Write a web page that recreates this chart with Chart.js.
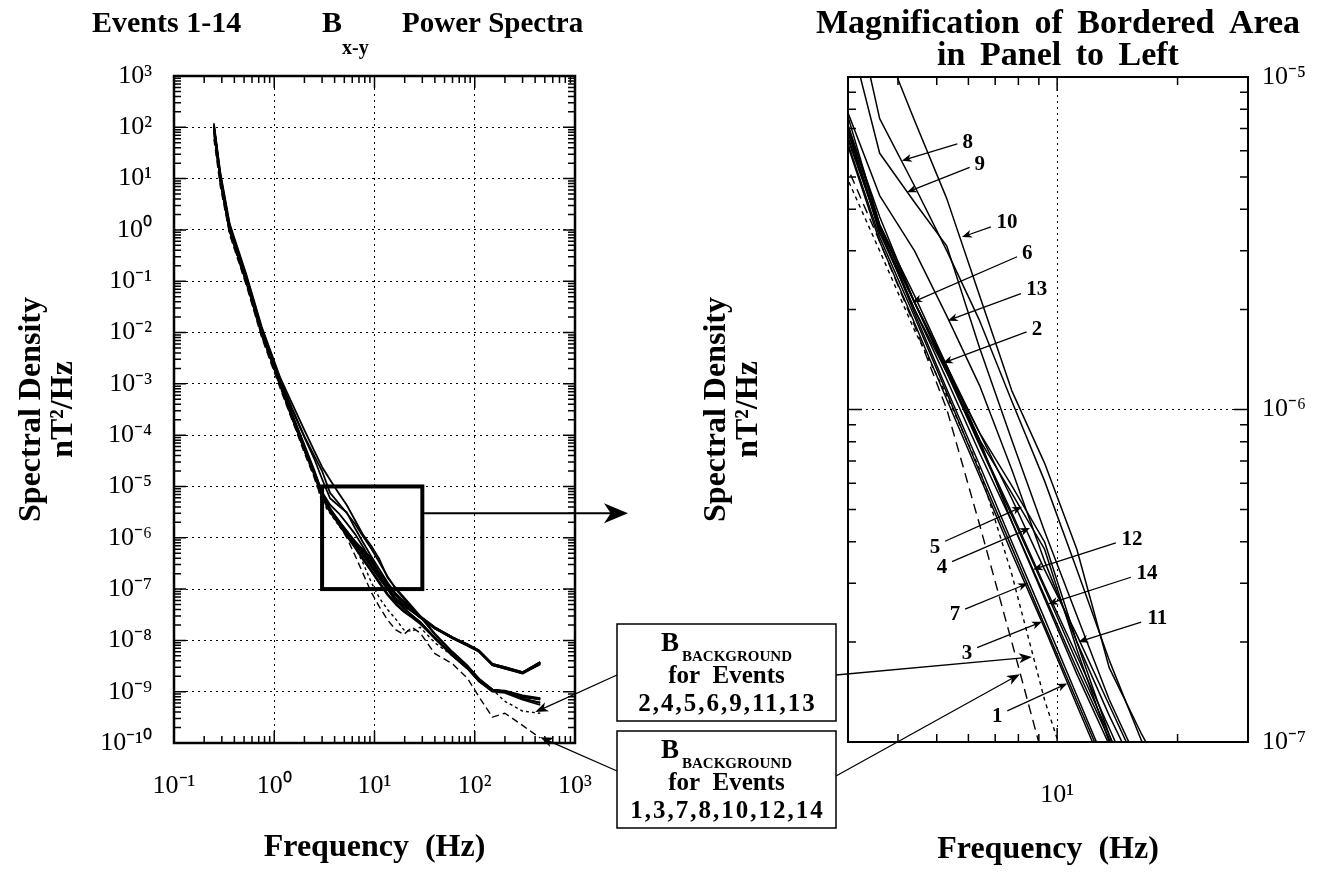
<!DOCTYPE html>
<html>
<head>
<meta charset="utf-8">
<script src="https://cdn.jsdelivr.net/npm/chart.js@4.4.0/dist/chart.umd.min.js"></script>
<style>
  body { margin: 0; background: #fff; }
  #wrap { position: relative; width: 1327px; height: 877px; }
  canvas { position: absolute; left: 0; top: 0; }
</style>
</head>
<body>
<div id="wrap">
  <canvas id="spectraChart" width="1327" height="877"></canvas>
  <canvas id="zoomChart" width="1327" height="877"></canvas>
</div>
<script>
// frequency bins (Hz) shared by every spectrum
const freq = [0.25, 0.29, 0.36, 0.53, 0.75, 1.15, 1.5, 2.0, 2.5, 3.0, 3.6, 4.4, 5.3, 6.4, 7.7, 9.3, 11.2, 13.5, 16.3, 19.6, 23.6, 28.5, 40, 60, 85, 110, 150, 200, 300, 450];

// Bx-y spectral density (nT^2/Hz), one array per event
const event1  = [95, 9.5, 0.95, 0.095, 0.0095, 9.5e-4, 2.2e-4, 5.2e-5, 1.7e-5, 6.2e-6, 3.2e-6, 1.82e-6, 1.07e-6, 6.3e-7, 3.7e-7, 2.2e-7, 1.29e-7, 7.6e-8, 5.0e-8, 3.6e-8, 2.8e-8, 2.1e-8, 1.1e-8, 5.0e-9, 2.8e-9, 1.6e-9, 1.05e-9, 1.0e-9, 7.5e-10, 6.0e-10];
const event2  = [100, 10, 1.0, 0.1, 0.01, 1.0e-3, 2.4e-4, 5.8e-5, 1.9e-5, 7.2e-6, 3.6e-6, 2.1e-6, 1.32e-6, 7.9e-7, 4.9e-7, 2.95e-7, 1.82e-7, 1.1e-7, 6.6e-8, 5.0e-8, 3.8e-8, 2.8e-8, 1.7e-8, 1.1e-8, 8.0e-9, 6.2e-9, 3.4e-9, 2.9e-9, 2.3e-9, 3.6e-9];
const event3  = [92, 9.2, 0.92, 0.092, 0.0092, 9.2e-4, 2.2e-4, 5.3e-5, 1.75e-5, 6.3e-6, 3.3e-6, 1.9e-6, 1.12e-6, 6.5e-7, 3.85e-7, 2.25e-7, 1.33e-7, 7.9e-8, 5.2e-8, 3.7e-8, 2.9e-8, 2.2e-8, 1.1e-8, 5.2e-9, 2.9e-9, 1.65e-9, 1.08e-9, 1.0e-9, 8.0e-10, 7.0e-10];
const event4  = [98, 9.8, 0.98, 0.098, 0.0098, 9.8e-4, 2.3e-4, 5.6e-5, 1.85e-5, 6.9e-6, 3.4e-6, 2.0e-6, 1.29e-6, 8.1e-7, 5.6e-7, 3.8e-7, 1.9e-7, 1.0e-7, 5.6e-8, 4.6e-8, 3.7e-8, 2.8e-8, 1.7e-8, 1.1e-8, 7.8e-9, 6.0e-9, 3.3e-9, 2.8e-9, 2.3e-9, 3.4e-9];
const event5  = [102, 10.2, 1.02, 0.1, 0.0102, 1.0e-3, 2.35e-4, 5.7e-5, 1.9e-5, 7.1e-6, 3.4e-6, 2.1e-6, 1.32e-6, 8.5e-7, 5.9e-7, 4.0e-7, 2.0e-7, 1.05e-7, 5.9e-8, 4.7e-8, 3.8e-8, 2.9e-8, 1.75e-8, 1.15e-8, 8.2e-9, 6.3e-9, 3.5e-9, 3.0e-9, 2.4e-9, 3.8e-9];
const event6  = [104, 10.5, 1.05, 0.105, 0.0105, 1.05e-3, 2.45e-4, 5.9e-5, 1.95e-5, 7.1e-6, 3.8e-6, 2.1e-6, 1.35e-6, 8.1e-7, 4.6e-7, 2.7e-7, 1.6e-7, 9.8e-8, 6.5e-8, 4.8e-8, 3.7e-8, 2.8e-8, 1.7e-8, 1.1e-8, 8.0e-9, 6.1e-9, 3.3e-9, 2.8e-9, 2.25e-9, 3.5e-9];
const event7  = [94, 9.4, 0.94, 0.094, 0.0094, 9.4e-4, 2.25e-4, 5.4e-5, 1.8e-5, 6.5e-6, 3.5e-6, 1.95e-6, 1.15e-6, 6.8e-7, 4.0e-7, 2.35e-7, 1.38e-7, 8.1e-8, 5.3e-8, 3.8e-8, 2.9e-8, 2.3e-8, 1.15e-8, 5.3e-9, 3.0e-9, 1.7e-9, 1.1e-9, 1.05e-9, 8.5e-10, 7.5e-10];
const event8  = [110, 12, 1.2, 0.12, 0.012, 1.2e-3, 3.4e-4, 9.5e-5, 4.0e-5, 2.0e-5, 7.5e-6, 4.7e-6, 3.0e-6, 1.85e-6, 1.06e-6, 6.1e-7, 3.3e-7, 1.76e-7, 1.0e-7, 6.5e-8, 4.3e-8, 2.9e-8, 1.3e-8, 5.8e-9, 3.1e-9, 1.8e-9, 1.1e-9, 1.0e-9, 7.8e-10, 7.2e-10];
const event9  = [105, 11, 1.1, 0.11, 0.011, 1.1e-3, 3.2e-4, 9.0e-5, 3.5e-5, 1.4e-5, 5.9e-6, 4.2e-6, 3.1e-6, 1.53e-6, 8.1e-7, 4.3e-7, 2.4e-7, 1.34e-7, 8.2e-8, 5.8e-8, 4.2e-8, 3.0e-8, 1.8e-8, 1.15e-8, 8.4e-9, 6.4e-9, 3.5e-9, 3.0e-9, 2.4e-9, 3.8e-9];
const event10 = [120, 13, 1.3, 0.13, 0.013, 1.3e-3, 4.2e-4, 1.25e-4, 5.0e-5, 2.4e-5, 1.35e-5, 7.4e-6, 4.3e-6, 2.2e-6, 1.14e-6, 6.9e-7, 3.8e-7, 1.67e-7, 1.05e-7, 7.0e-8, 4.6e-8, 3.0e-8, 1.35e-8, 6.0e-9, 3.2e-9, 1.8e-9, 1.1e-9, 1.0e-9, 8.0e-10, 7.4e-10];
const event11 = [100, 10, 1.0, 0.1, 0.01, 1.0e-3, 2.5e-4, 6.0e-5, 2.0e-5, 7.6e-6, 3.6e-6, 2.2e-6, 1.35e-6, 8.5e-7, 5.4e-7, 3.3e-7, 2.1e-7, 1.29e-7, 7.9e-8, 5.6e-8, 4.0e-8, 2.9e-8, 1.8e-8, 1.15e-8, 8.3e-9, 6.4e-9, 3.4e-9, 2.9e-9, 2.35e-9, 3.7e-9];
const event12 = [96, 9.6, 0.96, 0.096, 0.0096, 9.6e-4, 2.3e-4, 5.5e-5, 1.85e-5, 6.6e-6, 3.5e-6, 2.0e-6, 1.23e-6, 7.4e-7, 4.6e-7, 2.75e-7, 1.66e-7, 1.02e-7, 6.2e-8, 4.2e-8, 3.1e-8, 2.3e-8, 1.1e-8, 5.0e-9, 2.8e-9, 1.6e-9, 1.0e-9, 9.5e-10, 7.0e-10, 5.5e-10];
const event13 = [108, 11, 1.1, 0.11, 0.011, 1.1e-3, 2.7e-4, 6.5e-5, 2.1e-5, 7.8e-6, 4.4e-6, 3.0e-6, 1.91e-6, 1.18e-6, 6.6e-7, 3.5e-7, 2.0e-7, 1.2e-7, 7.5e-8, 5.4e-8, 4.0e-8, 2.9e-8, 1.75e-8, 1.1e-8, 8.0e-9, 6.2e-9, 3.3e-9, 2.9e-9, 2.3e-9, 3.6e-9];
const event14 = [97, 9.7, 0.97, 0.097, 0.0097, 9.7e-4, 2.3e-4, 5.6e-5, 1.9e-5, 6.8e-6, 3.55e-6, 2.1e-6, 1.29e-6, 7.8e-7, 4.8e-7, 2.9e-7, 1.74e-7, 1.05e-7, 6.3e-8, 4.3e-8, 3.1e-8, 2.3e-8, 1.1e-8, 5.1e-9, 2.8e-9, 1.6e-9, 1.05e-9, 1.0e-9, 7.2e-10, 6.2e-10];

// background spectra
const bkgA = [60, 7.0, 0.8, 0.08, 0.008, 8.0e-4, 2.0e-4, 4.5e-5, 1.5e-5, 5.3e-6, 3.2e-6, 1.79e-6, 1.0e-6, 4.5e-7, 2.0e-7, 8.6e-8, 4.5e-8, 2.5e-8, 1.6e-8, 1.3e-8, 1.8e-8, 1.4e-8, 5.5e-9, 3.5e-9, 1.8e-9, 8.0e-10, 3.2e-10, 3.8e-10, 2.2e-10, 1.25e-10]; // events 1,3,7,8,10,12,14
const bkgB = [70, 8.0, 0.85, 0.085, 0.0085, 8.5e-4, 2.1e-4, 4.8e-5, 1.6e-5, 4.9e-6, 3.0e-6, 1.73e-6, 1.1e-6, 6.6e-7, 3.2e-7, 1.34e-7, 6.7e-8, 4.0e-8, 2.6e-8, 1.6e-8, 1.5e-8, 1.8e-8, 9.0e-9, 5.0e-9, 3.0e-9, 1.8e-9, 1.1e-9, 6.5e-10, 4.2e-10, 3.8e-10]; // events 2,4,5,6,9,11,13

// tick values (decades)
const leftXTicks = [0.1, 1, 10, 100, 1000];
const leftYTicks = [1e-10, 1e-9, 1e-8, 1e-7, 1e-6, 1e-5, 1e-4, 1e-3, 1e-2, 1e-1, 1, 10, 100, 1000];
const rightXTicks = [10];
const rightYTicks = [1e-7, 1e-6, 1e-5];

const events = [event1, event2, event3, event4, event5, event6, event7, event8, event9, event10, event11, event12, event13, event14];

// bordered area in left panel (Hz, nT^2/Hz)
const zoomBox = {fMin: 3, fMax: 30, vMin: 1e-7, vMax: 1e-5, arrowAt: 3e-6};

// event number labels in right panel: tip on the curve (data coords), label offset in px
const eventLabels = [
  {n: '8',  f: 4.09, v: 5.6e-6,  dx: 66,  dy: -20},
  {n: '9',  f: 4.21, v: 4.5e-6,  dx: 73,  dy: -29},
  {n: '10', f: 5.78, v: 3.3e-6,  dx: 45,  dy: -16},
  {n: '6',  f: 4.34, v: 2.1e-6,  dx: 115, dy: -50},
  {n: '13', f: 5.33, v: 1.85e-6, dx: 89,  dy: -33},
  {n: '2',  f: 5.18, v: 1.38e-6, dx: 94,  dy: -35},
  {n: '5',  f: 8.17, v: 5.1e-7,  dx: -87, dy: 39},
  {n: '4',  f: 8.55, v: 4.4e-7,  dx: -88, dy: 38},
  {n: '12', f: 8.7,  v: 3.3e-7,  dx: 99,  dy: -32},
  {n: '7',  f: 8.45, v: 3.0e-7,  dx: -73, dy: 30},
  {n: '14', f: 9.49, v: 2.6e-7,  dx: 99,  dy: -32},
  {n: '3',  f: 9.16, v: 2.3e-7,  dx: -75, dy: 30},
  {n: '11', f: 11.3, v: 2.0e-7,  dx: 79,  dy: -25},
  {n: '1',  f: 10.6, v: 1.5e-7,  dx: -70, dy: 32}
];

// background notes between the panels
const bkgNotes = [
  {events: '2,4,5,6,9,11,13', top: 624, fromY: 675, toY: 675, leftTip: [401, 4.0e-10], rightTip: [8.65, 1.8e-7]},
  {events: '1,3,7,8,10,12,14', top: 731, fromY: 771, toY: 776, leftTip: [450, 1.3e-10], rightTip: [8.07, 1.6e-7]}
];

const serif = "'Liberation Serif', 'Times New Roman', serif";
Chart.defaults.font.family = serif;
Chart.defaults.color = '#000';

const SUP = {'-': '\u207B', '0': '\u2070', '1': '\u00B9', '2': '\u00B2', '3': '\u00B3', '4': '\u2074', '5': '\u2075', '6': '\u2076', '7': '\u2077', '8': '\u2078', '9': '\u2079'};
function powerLabel(value) {
  const e = Math.round(Math.log10(value));
  return '10' + String(e).split('').map(c => SUP[c]).join('');
}

function makeDatasets(width, dashA, dashB) {
  const sets = events.map((vals, i) => ({
    label: 'Event ' + (i + 1),
    data: freq.map((f, j) => ({x: f, y: vals[j]})),
    borderColor: '#000',
    borderWidth: width,
    yAxisID: 'y'
  }));
  sets.push({label: 'Background 1,3,7,8,10,12,14', data: freq.map((f, j) => ({x: f, y: bkgA[j]})),
    borderColor: '#000', borderWidth: 1.4, borderDash: dashA, yAxisID: 'y'});
  sets.push({label: 'Background 2,4,5,6,9,11,13', data: freq.map((f, j) => ({x: f, y: bkgB[j]})),
    borderColor: '#000', borderWidth: 1.4, borderDash: dashB, yAxisID: 'y'});
  return sets;
}

function logMinor(min, max) {
  const out = [];
  for (let e = Math.floor(Math.log10(min)); e <= Math.ceil(Math.log10(max)); e++) {
    for (let k = 2; k <= 9; k++) {
      const v = k * Math.pow(10, e);
      if (v > min * 1.0001 && v < max * 0.9999) out.push(v);
    }
  }
  return out;
}

function drawFrame(chart, o) {
  const {ctx, chartArea: a} = chart;
  const xs = chart.scales.x, ys = chart.scales.y;
  ctx.save();
  ctx.strokeStyle = '#000';
  ctx.lineWidth = o.tickWidth;
  ctx.beginPath();
  const xTick = (v, len) => {
    const p = xs.getPixelForValue(v);
    ctx.moveTo(p, a.bottom); ctx.lineTo(p, a.bottom - len);
    ctx.moveTo(p, a.top); ctx.lineTo(p, a.top + len);
  };
  const yTick = (v, len) => {
    const p = ys.getPixelForValue(v);
    ctx.moveTo(a.left, p); ctx.lineTo(a.left + len, p);
    ctx.moveTo(a.right, p); ctx.lineTo(a.right - len, p);
  };
  logMinor(xs.min, xs.max).forEach(v => xTick(v, o.minor));
  xs.ticks.forEach(t => xTick(t.value, o.major));
  logMinor(ys.min, ys.max).forEach(v => yTick(v, o.minor));
  ys.ticks.forEach(t => yTick(t.value, o.major));
  ctx.stroke();
  ctx.lineWidth = o.frameWidth;
  ctx.strokeRect(a.left, a.top, a.right - a.left, a.bottom - a.top);
  ctx.restore();
}

function arrow(ctx, x1, y1, x2, y2, len, half, width) {
  const ang = Math.atan2(y2 - y1, x2 - x1);
  ctx.save();
  ctx.lineWidth = width;
  ctx.beginPath();
  ctx.moveTo(x1, y1);
  ctx.lineTo(x2 - Math.cos(ang) * len * 0.7, y2 - Math.sin(ang) * len * 0.7);
  ctx.stroke();
  ctx.translate(x2, y2);
  ctx.rotate(ang);
  ctx.beginPath();
  ctx.moveTo(0, 0);
  ctx.lineTo(-len, -half);
  ctx.lineTo(-len * 0.72, 0);
  ctx.lineTo(-len, half);
  ctx.closePath();
  ctx.fill();
  ctx.restore();
}

function text(ctx, str, x, y, size, align) {
  ctx.font = 'bold ' + size + 'px ' + serif;
  ctx.textAlign = align || 'left';
  ctx.textBaseline = 'alphabetic';
  ctx.fillText(str, x, y);
}

const spectraDecor = {
  id: 'spectraDecor',
  afterDraw(chart) {
    const ctx = chart.ctx;
    const xs = chart.scales.x, ys = chart.scales.y;
    drawFrame(chart, {tickWidth: 1.5, minor: 7, major: 12, frameWidth: 2.5});
    ctx.save();
    ctx.fillStyle = '#000';
    ctx.strokeStyle = '#000';

    // bordered area magnified in the right panel
    const bx1 = xs.getPixelForValue(zoomBox.fMin), bx2 = xs.getPixelForValue(zoomBox.fMax);
    const by1 = ys.getPixelForValue(zoomBox.vMax), by2 = ys.getPixelForValue(zoomBox.vMin);
    ctx.lineWidth = 4;
    ctx.strokeRect(bx1, by1, bx2 - bx1, by2 - by1);
    const ay = ys.getPixelForValue(zoomBox.arrowAt);
    arrow(ctx, bx2, ay, 628, ay, 24, 10, 2);

    // title
    text(ctx, 'Events 1-14', 92, 32, 30);
    text(ctx, 'B', 322, 32, 30);
    text(ctx, 'x-y', 342, 54, 20);
    text(ctx, 'Power Spectra', 402, 32, 29);

    // arrows from the background notes into this panel
    bkgNotes.forEach(n => {
      arrow(ctx, 617, n.fromY, xs.getPixelForValue(n.leftTip[0]), ys.getPixelForValue(n.leftTip[1]), 13, 5, 1.3);
    });
    ctx.restore();
  }
};

const zoomDecor = {
  id: 'zoomDecor',
  afterDraw(chart) {
    const ctx = chart.ctx;
    const xs = chart.scales.x, ys = chart.scales.y;
    drawFrame(chart, {tickWidth: 1.5, minor: 8, major: 14, frameWidth: 2});
    ctx.save();
    ctx.fillStyle = '#000';
    ctx.strokeStyle = '#000';

    // title
    ctx.wordSpacing = '6px';
    text(ctx, 'Magnification of Bordered Area', 1058, 33, 34, 'center');
    text(ctx, 'in Panel to Left', 1058, 65, 34, 'center');
    ctx.wordSpacing = '0px';

    // event numbers with arrows
    eventLabels.forEach(l => {
      const tx = xs.getPixelForValue(l.f), ty = ys.getPixelForValue(l.v);
      const cx = tx + l.dx, cy = ty + l.dy;
      text(ctx, l.n, cx, cy + 7, 21, 'center');
      const d = Math.hypot(tx - cx, ty - cy), r = l.n.length > 1 ? 17 : 11;
      arrow(ctx, cx + (tx - cx) * r / d, cy + (ty - cy) * r / d, tx, ty, 10, 4, 1.3);
    });

    // background note boxes
    bkgNotes.forEach(n => {
      ctx.lineWidth = 1.5;
      ctx.strokeRect(617, n.top, 219, 97);
      ctx.font = 'bold 27px ' + serif;
      const wB = ctx.measureText('B').width;
      ctx.font = 'bold 15px ' + serif;
      const wS = ctx.measureText('BACKGROUND').width;
      const x0 = 726.5 - (wB + 3 + wS) / 2;
      text(ctx, 'B', x0, n.top + 27, 27);
      text(ctx, 'BACKGROUND', x0 + wB + 3, n.top + 37, 15);
      text(ctx, 'for  Events', 726.5, n.top + 59, 25, 'center');
      ctx.letterSpacing = '2px';
      text(ctx, n.events, 727.5, n.top + 87, 25, 'center');
      ctx.letterSpacing = '0px';
      arrow(ctx, 836, n.toY, xs.getPixelForValue(n.rightTip[0]), ys.getPixelForValue(n.rightTip[1]), 13, 5, 1.3);
    });
    ctx.restore();
  }
};

const tickFont = {size: 26};
const titleFont = {size: 32, weight: 'bold'};

new Chart(document.getElementById('spectraChart'), {
  type: 'line',
  data: {datasets: makeDatasets(1.8, [7, 4], [3, 3])},
  options: {
    responsive: false, animation: false, devicePixelRatio: 1, events: [],
    layout: {padding: {left: 8, top: 76, right: 752, bottom: 8}},
    elements: {point: {radius: 0}, line: {tension: 0, borderJoinStyle: 'round'}},
    plugins: {legend: {display: false}, tooltip: {enabled: false}},
    scales: {
      x: {
        type: 'logarithmic', min: 0.1, max: 1000,
        afterBuildTicks: s => { s.ticks = leftXTicks.map(v => ({value: v})); },
        afterFit: s => { s.height = 126; },
        grid: {color: '#000', lineWidth: 1, drawTicks: false},
        border: {display: false, dash: [2, 4]},
        ticks: {callback: powerLabel, padding: 28, font: tickFont, maxRotation: 0, autoSkip: false},
        title: {display: true, text: 'Frequency  (Hz)', font: titleFont, padding: {top: 0, bottom: 2}}
      },
      y: {
        type: 'logarithmic', min: 1e-10, max: 1000,
        afterBuildTicks: s => { s.ticks = leftYTicks.map(v => ({value: v})); },
        afterFit: s => { s.width = 166; },
        grid: {color: '#000', lineWidth: 1, drawTicks: false},
        border: {display: false, dash: [2, 4]},
        ticks: {callback: powerLabel, padding: 22, font: tickFont, autoSkip: false},
        title: {display: true, text: ['Spectral Density', 'nT\u00B2/Hz'], font: {size: 32, weight: 'bold', lineHeight: 1.0}, padding: {top: 8, bottom: 0}}
      }
    }
  },
  plugins: [spectraDecor]
});

new Chart(document.getElementById('zoomChart'), {
  type: 'line',
  data: {datasets: makeDatasets(1.5, [10, 6], [4, 4])},
  options: {
    responsive: false, animation: false, devicePixelRatio: 1, events: [],
    layout: {padding: {left: 690, top: 77, right: 0, bottom: 8}},
    elements: {point: {radius: 0}, line: {tension: 0, borderJoinStyle: 'round'}},
    plugins: {legend: {display: false}, tooltip: {enabled: false}},
    scales: {
      x: {
        type: 'logarithmic', min: 3, max: 30,
        afterBuildTicks: s => { s.ticks = rightXTicks.map(v => ({value: v})); },
        afterFit: s => { s.height = 127; },
        grid: {color: '#000', lineWidth: 1, drawTicks: false},
        border: {display: false, dash: [2, 4]},
        ticks: {callback: powerLabel, padding: 38, font: tickFont, maxRotation: 0, autoSkip: false},
        title: {display: true, text: 'Frequency  (Hz)', font: titleFont, padding: {top: 0, bottom: 0}}
      },
      y: {
        type: 'logarithmic', position: 'right', min: 1e-7, max: 1e-5,
        afterBuildTicks: s => { s.ticks = rightYTicks.map(v => ({value: v})); },
        afterFit: s => { s.width = 79; },
        grid: {color: '#000', lineWidth: 1, drawTicks: false},
        border: {display: false, dash: [2, 4]},
        ticks: {callback: powerLabel, padding: 14, font: tickFont, autoSkip: false}
      },
      yl: {
        type: 'logarithmic', position: 'left', min: 1e-7, max: 1e-5,
        afterFit: s => { s.width = 158; },
        grid: {display: false},
        border: {display: false},
        ticks: {display: false},
        title: {display: true, text: ['Spectral Density', 'nT\u00B2/Hz'], font: {size: 32, weight: 'bold', lineHeight: 1.0}, padding: {top: 11, bottom: 0}}
      }
    }
  },
  plugins: [zoomDecor]
});
</script>
</body>
</html>
